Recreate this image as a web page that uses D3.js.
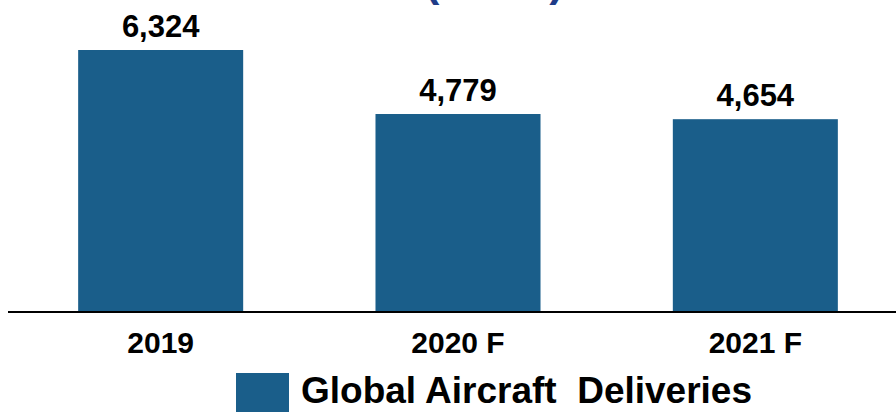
<!DOCTYPE html>
<html>
<head>
<meta charset="utf-8">
<script src="https://cdn.jsdelivr.net/npm/d3@7"></script>
<style>
    body { margin: 0; background: #fff; }
    svg { display: block; font-family: 'Liberation Sans', Arial, sans-serif; }
</style>
</head>
<body>
<div id="chart"></div>
<script>
// chart data
const categories = ['2019', '2020 F', '2021 F'];
const deliveries = [6324, 4779, 4654];
const seriesName = 'Global Aircraft  Deliveries';
const titleText = '(Units)';

let width = 896, height = 412;
let barColor = '#1a5e8a';

let svg = d3.select('#chart').append('svg')
    .attr('width', width)
    .attr('height', height);

let x = d3.scaleBand()
    .domain(categories)
    .range([12, 904])
    .paddingInner(0.445)
    .paddingOuter(0.2225);

let y = d3.scaleLinear()
    .domain([0, 7000])
    .range([312, 22]);

// title, mostly cut off above the top edge
svg.append('text')
    .attr('x', 564)
    .attr('y', -4)
    .attr('text-anchor', 'end')
    .style('font-size', '44px')
    .style('font-weight', 'bold')
    .style('fill', '#1f3c88')
    .text(titleText);

let bars = svg.selectAll('.bar')
    .data(deliveries)
    .enter()
    .append('g')
    .attr('class', 'bar');

bars.append('rect')
    .attr('x', function(d, i) { return x(categories[i]); })
    .attr('y', function(d) { return y(d); })
    .attr('width', x.bandwidth())
    .attr('height', function(d) { return y(0) - y(d); })
    .style('fill', barColor);

bars.append('text')
    .attr('x', function(d, i) { return x(categories[i]) + x.bandwidth() / 2; })
    .attr('y', function(d) { return y(d) - 13; })
    .attr('text-anchor', 'middle')
    .style('font-size', '31px')
    .style('font-weight', 'bold')
    .style('fill', '#000')
    .text(function(d) { return d3.format(',')(d); });

// x axis
let xAxis = d3.axisBottom(x).tickSize(0).tickPadding(20);
let axisG = svg.append('g')
    .attr('transform', 'translate(0,' + y(0) + ')')
    .call(xAxis);
axisG.select('.domain').remove();
axisG.append('line')
    .attr('x1', 8).attr('x2', 896)
    .attr('y1', 0).attr('y2', 0)
    .style('stroke', '#000')
    .style('stroke-width', 2);
axisG.selectAll('.tick text')
    .style('font-size', '30px')
    .style('font-weight', 'bold')
    .style('font-family', "'Liberation Sans', Arial, sans-serif")
    .style('fill', '#000');

// legend
let legend = svg.append('g').attr('transform', 'translate(236,373)');
legend.append('rect')
    .attr('width', 53).attr('height', 40)
    .style('fill', barColor);
legend.append('text')
    .attr('x', 65)
    .attr('y', 30)
    .style('font-size', '37px')
    .style('font-weight', 'bold')
    .style('fill', '#000')
    .style('white-space', 'pre')
    .attr('xml:space', 'preserve')
    .text(seriesName);
</script>
</body>
</html>
